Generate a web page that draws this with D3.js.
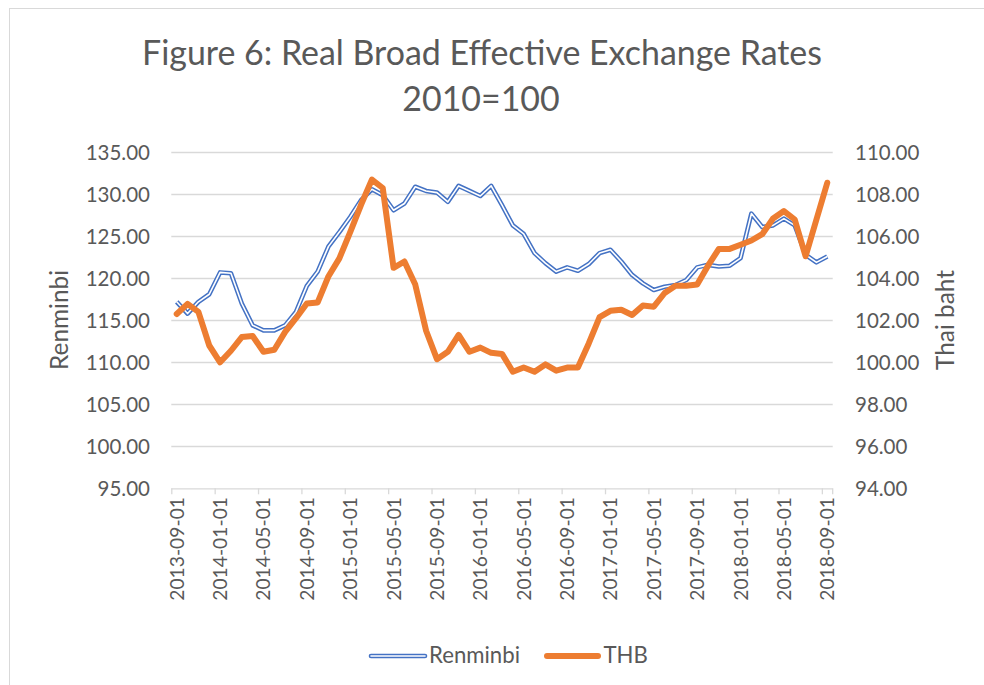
<!DOCTYPE html>
<html>
<head>
<meta charset="utf-8">
<script src="https://cdn.jsdelivr.net/npm/d3@7"></script>
<style>
  html, body { margin: 0; padding: 0; background: #fff; }
  svg { display: block; font-family: Lato, "Open Sans", sans-serif; }
</style>
</head>
<body>
<svg id="chart" width="984" height="685"></svg>
<script>
// ---- data ----
const dates = [];
(function(){
  let y = 2013, m = 9;
  for (let k = 0; k < 61; k++) {
    dates.push(y + "-" + String(m).padStart(2, "0") + "-01");
    m++; if (m > 12) { m = 1; y++; }
  }
})();

const renminbi = [
  117.2, 115.8, 117.2, 118.1, 120.7, 120.6, 117.0, 114.4, 113.8, 113.8,
  114.4, 116.0, 119.1, 120.8, 123.8, 125.5, 127.3, 129.3, 130.6, 129.9,
  128.1, 128.9, 130.9, 130.4, 130.2, 129.1, 131.0, 130.4, 129.8, 131.0,
  128.7, 126.3, 125.3, 123.0, 121.8, 120.8, 121.3, 120.9, 121.7, 123.0,
  123.4, 122.0, 120.4, 119.4, 118.6, 119.0, 119.2, 119.8, 121.3, 121.6,
  121.4, 121.5, 122.4, 127.7, 126.1, 126.3, 127.1, 126.3, 122.8, 121.9,
  122.6
];

const thb = [
  102.3, 102.78, 102.4, 100.8, 100.0, 100.55, 101.2, 101.25, 100.5, 100.6,
  101.45, 102.1, 102.8, 102.85, 104.1, 104.95, 106.2, 107.5, 108.7, 108.3,
  104.5, 104.8, 103.7, 101.5, 100.15, 100.5, 101.3, 100.5, 100.7, 100.45,
  100.4, 99.55, 99.75, 99.55, 99.9, 99.6, 99.75, 99.75, 100.9, 102.15,
  102.45, 102.5, 102.25, 102.7, 102.65, 103.3, 103.65, 103.65, 103.7, 104.6,
  105.4, 105.4, 105.6, 105.8, 106.1, 106.85, 107.2, 106.8, 105.05, 106.8,
  108.55
];

const leftTicks = [95, 100, 105, 110, 115, 120, 125, 130, 135];
const rightTicks = [94, 96, 98, 100, 102, 104, 106, 108, 110];
const titleLines = ["Figure 6: Real Broad Effective Exchange Rates", "2010=100"];
const seriesNames = ["Renminbi", "THB"];
const axisTitles = ["Renminbi", "Thai baht"];

// ---- layout ----
const svg = d3.select("#chart");
const textColor = "#595959";
const gridColor = "#d9d9d9";
const blue = "#4472C4";
const orange = "#ED7D31";

const plot = { left: 171.3, right: 832.7, top: 152.3, bottom: 488.3 };

const x = d3.scaleBand().domain(dates).range([plot.left, plot.right]).paddingInner(0).paddingOuter(0);
const cx = d => x(d) + x.bandwidth() / 2;
const yL = d3.scaleLinear().domain([95, 135]).range([plot.bottom, plot.top]);
const yR = d3.scaleLinear().domain([94, 110]).range([plot.bottom, plot.top]);

// chart frame
svg.append("rect").attr("x", 9.5).attr("y", 8.5).attr("width", 1000).attr("height", 700)
  .attr("fill", "#fff").attr("stroke", "#d9d9d9").attr("stroke-width", 1);

// helper to fit text width
function fit(sel, target) {
  const fs = parseFloat(sel.attr("font-size"));
  const w = sel.node().getComputedTextLength();
  if (w > 0) sel.attr("font-size", (fs * target / w).toFixed(2));
  return sel;
}

// title
const t1 = svg.append("text").attr("x", 482).attr("y", 64.5).attr("text-anchor", "middle")
  .attr("fill", textColor).attr("font-size", 31).text(titleLines[0]);
fit(t1, 680);
const t2 = svg.append("text").attr("x", 481).attr("y", 111).attr("text-anchor", "middle")
  .attr("fill", textColor).attr("font-size", parseFloat(t1.attr("font-size"))).text(titleLines[1]);

// gridlines
svg.append("g").selectAll("line").data(leftTicks.slice(1)).join("line")
  .attr("x1", plot.left).attr("x2", plot.right)
  .attr("y1", d => Math.round(yL(d)) + 0.5).attr("y2", d => Math.round(yL(d)) + 0.5)
  .attr("stroke", gridColor).attr("stroke-width", 1.3);

// left axis
const axL = d3.axisLeft(yL).tickValues(leftTicks).tickFormat(d3.format(".2f")).tickSize(0).tickPadding(0);
const gL = svg.append("g").attr("transform", `translate(150,0)`).call(axL);
gL.select(".domain").remove();
gL.selectAll("text").attr("fill", textColor).attr("font-size", 20.5).attr("font-family", "Lato").attr("dy", "0.36em");

// right axis
const axR = d3.axisRight(yR).tickValues(rightTicks).tickFormat(d3.format(".2f")).tickSize(0).tickPadding(0);
const gR = svg.append("g").attr("transform", `translate(855,0)`).call(axR);
gR.select(".domain").remove();
gR.selectAll("text").attr("fill", textColor).attr("font-size", 20.5).attr("font-family", "Lato").attr("dy", "0.36em");

// bottom axis
const tickDates = dates.filter((d, i) => i % 4 === 0);
const gB = svg.append("g");
gB.append("line").attr("x1", plot.left).attr("x2", plot.right)
  .attr("y1", plot.bottom + 0.5).attr("y2", plot.bottom + 0.5)
  .attr("stroke", "#d9d9d9").attr("stroke-width", 1.3);
gB.selectAll("line.tk").data(tickDates).join("line").attr("class", "tk")
  .attr("x1", d => x(d) + 0.5).attr("x2", d => x(d) + 0.5)
  .attr("y1", plot.bottom).attr("y2", plot.bottom + 6)
  .attr("stroke", "#d9d9d9").attr("stroke-width", 1.3);
gB.append("line").attr("x1", plot.right).attr("x2", plot.right)
  .attr("y1", plot.bottom).attr("y2", plot.bottom + 6)
  .attr("stroke", "#d9d9d9").attr("stroke-width", 1.3);
gB.selectAll("text").data(tickDates).join("text")
  .attr("transform", d => `translate(${cx(d) + 7},497) rotate(-90)`)
  .attr("text-anchor", "end").attr("fill", textColor).attr("font-size", 19.3)
  .text(d => d);

// axis titles
const at1 = svg.append("text").attr("transform", "translate(68,320) rotate(-90)")
  .attr("text-anchor", "middle").attr("fill", textColor).attr("font-size", 22).text(axisTitles[0]);
fit(at1, 100);
const at2 = svg.append("text").attr("transform", "translate(954,320) rotate(-90)")
  .attr("text-anchor", "middle").attr("fill", textColor).attr("font-size", 22).text(axisTitles[1]);
fit(at2, 100);

// lines
const lineL = d3.line().x((d, i) => cx(dates[i])).y(d => yL(d));
const lineR = d3.line().x((d, i) => cx(dates[i])).y(d => yR(d));

svg.append("path").datum(renminbi).attr("d", lineL).attr("fill", "none")
  .attr("stroke", blue).attr("stroke-width", 4.6).attr("stroke-linejoin", "round");
svg.append("path").datum(renminbi).attr("d", lineL).attr("fill", "none")
  .attr("stroke", "#fff").attr("stroke-width", 1.6).attr("stroke-linejoin", "round");
svg.append("path").datum(thb).attr("d", lineR).attr("fill", "none")
  .attr("stroke", orange).attr("stroke-width", 6).attr("stroke-linejoin", "round").attr("stroke-linecap", "round");

// legend
const lg = svg.append("g");
lg.append("line").attr("x1", 371).attr("x2", 425).attr("y1", 656).attr("y2", 656)
  .attr("stroke", blue).attr("stroke-width", 4.6).attr("stroke-linecap", "round");
lg.append("line").attr("x1", 371).attr("x2", 425).attr("y1", 656).attr("y2", 656)
  .attr("stroke", "#fff").attr("stroke-width", 1.6).attr("stroke-linecap", "round");
const lt1 = lg.append("text").attr("x", 429).attr("y", 663).attr("fill", textColor)
  .attr("font-size", 20).text(seriesNames[0]);
fit(lt1, 91);
lg.append("line").attr("x1", 547).attr("x2", 598).attr("y1", 656).attr("y2", 656)
  .attr("stroke", orange).attr("stroke-width", 6).attr("stroke-linecap", "round");
lg.append("text").attr("x", 603.5).attr("y", 663).attr("fill", textColor)
  .attr("font-size", parseFloat(lt1.attr("font-size"))).text(seriesNames[1]);
</script>
</body>
</html>
